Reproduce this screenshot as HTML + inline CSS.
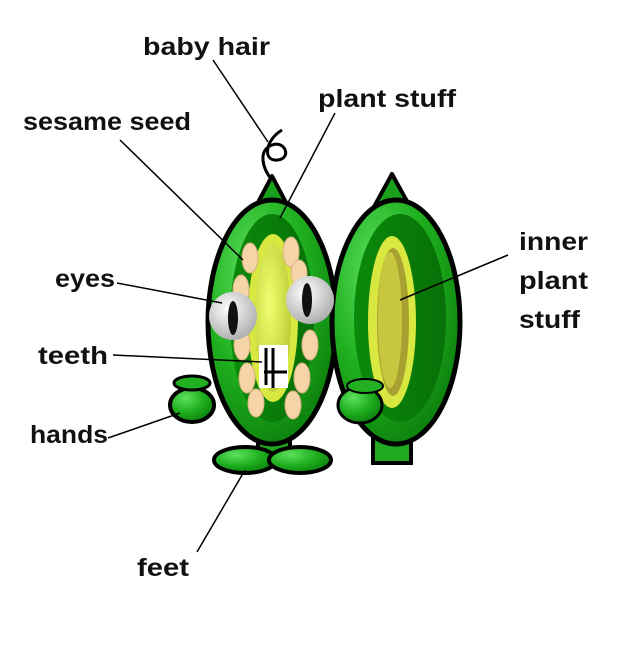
<!DOCTYPE html>
<html><head><style>
body{margin:0;background:#fff;}
svg{display:block}
text{font-family:"Liberation Sans",sans-serif;font-weight:bold;font-size:25px;fill:#111}
</style></head><body>
<svg width="626" height="651" viewBox="0 0 626 651" xmlns="http://www.w3.org/2000/svg">
<defs>
<radialGradient id="g" cx="0.35" cy="0.3" r="0.8"><stop offset="0" stop-color="#5fe05f"/><stop offset="0.5" stop-color="#1fb01f"/><stop offset="1" stop-color="#0a7a0a"/></radialGradient>
<linearGradient id="dg" x1="0" x2="1"><stop offset="0" stop-color="#0a8a0a"/><stop offset="1" stop-color="#087008"/></linearGradient>
<radialGradient id="y" cx="0.4" cy="0.4" r="0.7"><stop offset="0" stop-color="#f0ff70"/><stop offset="1" stop-color="#b8c830"/></radialGradient>
<radialGradient id="w" cx="0.4" cy="0.35" r="0.7"><stop offset="0" stop-color="#fff"/><stop offset="1" stop-color="#aaa"/></radialGradient>
</defs>
<!-- hair -->
<path d="M272 180 C262 168 258 150 272 145 C285 140 292 158 278 160 C262 162 265 140 282 130" fill="none" stroke="#000" stroke-width="3"/>
<!-- left pod -->
<path d="M272 176 L298 225 L246 225 Z" fill="#1aa01a" stroke="#000" stroke-width="4" stroke-linejoin="round"/>
<rect x="258" y="428" width="32" height="36" fill="#20a820" stroke="#000" stroke-width="4"/>
<ellipse cx="245" cy="460" rx="31" ry="13" fill="url(#g)" stroke="#000" stroke-width="4"/>
<ellipse cx="300" cy="460" rx="31" ry="13" fill="url(#g)" stroke="#000" stroke-width="4"/>
<ellipse cx="272" cy="322" rx="64" ry="122" fill="url(#g)" stroke="#000" stroke-width="5"/>
<ellipse cx="272" cy="318" rx="42" ry="104" fill="url(#dg)"/>
<ellipse cx="273" cy="318" rx="25" ry="84" fill="#d8e840"/>
<ellipse cx="273" cy="318" rx="18" ry="74" fill="url(#y)"/>
<!-- right pod -->
<path d="M392 174 L420 225 L364 225 Z" fill="#1aa01a" stroke="#000" stroke-width="4" stroke-linejoin="round"/>
<rect x="373" y="428" width="38" height="35" fill="#20a820" stroke="#000" stroke-width="4"/>
<ellipse cx="396" cy="322" rx="64" ry="122" fill="url(#g)" stroke="#000" stroke-width="5"/>
<ellipse cx="400" cy="318" rx="46" ry="104" fill="url(#dg)"/>
<ellipse cx="392" cy="322" rx="24" ry="86" fill="#d8e840"/>
<ellipse cx="393" cy="322" rx="16" ry="74" fill="#a8a030"/>
<ellipse cx="390" cy="320" rx="12" ry="68" fill="#c8c840"/>
<ellipse cx="360" cy="405" rx="22" ry="18" fill="url(#g)" stroke="#000" stroke-width="3"/>
<ellipse cx="365" cy="386" rx="18" ry="7" fill="#22b022" stroke="#000" stroke-width="2"/>
<!-- seeds -->
<g fill="#f5d5a8" stroke="#d8b080" stroke-width="1">
<ellipse cx="250" cy="258" rx="8" ry="15"/><ellipse cx="241" cy="290" rx="8" ry="15"/>
<ellipse cx="242" cy="345" rx="8" ry="15"/><ellipse cx="247" cy="378" rx="8" ry="15"/><ellipse cx="256" cy="403" rx="8" ry="14"/>
<ellipse cx="291" cy="252" rx="8" ry="15"/><ellipse cx="299" cy="273" rx="8" ry="13"/>
<ellipse cx="310" cy="345" rx="8" ry="15"/><ellipse cx="302" cy="378" rx="8" ry="15"/><ellipse cx="293" cy="405" rx="8" ry="14"/>
</g>
<!-- eyes -->
<circle cx="233" cy="316" r="24" fill="url(#w)"/>
<ellipse cx="233" cy="318" rx="5" ry="17" fill="#111"/>
<circle cx="310" cy="300" r="24" fill="url(#w)"/>
<ellipse cx="307" cy="300" rx="5" ry="17" fill="#111"/>
<!-- teeth -->
<rect x="259" y="345" width="29" height="43" fill="#fff"/>
<path d="M266 348V385M273 348V385M264 372H287M273 372V388" stroke="#000" stroke-width="3" fill="none"/>
<!-- left hand -->
<ellipse cx="192" cy="405" rx="22" ry="17" fill="url(#g)" stroke="#000" stroke-width="4"/>
<ellipse cx="192" cy="383" rx="18" ry="7" fill="#22b022" stroke="#000" stroke-width="3"/>
<!-- lines -->
<g stroke="#000" stroke-width="1.5">
<line x1="213" y1="60" x2="268" y2="142"/>
<line x1="335" y1="113" x2="280" y2="218"/>
<line x1="120" y1="140" x2="243" y2="260"/>
<line x1="117" y1="283" x2="222" y2="303"/>
<line x1="113" y1="355" x2="262" y2="362"/>
<line x1="108" y1="438" x2="180" y2="413"/>
<line x1="197" y1="552" x2="245" y2="470"/>
<line x1="508" y1="255" x2="400" y2="300"/>
</g>
<text x="143" y="55" textLength="127" lengthAdjust="spacingAndGlyphs">baby hair</text>
<text x="318" y="107" textLength="138" lengthAdjust="spacingAndGlyphs">plant stuff</text>
<text x="23" y="130" textLength="168" lengthAdjust="spacingAndGlyphs">sesame seed</text>
<text x="55" y="287" textLength="60" lengthAdjust="spacingAndGlyphs">eyes</text>
<text x="38" y="364" textLength="70" lengthAdjust="spacingAndGlyphs">teeth</text>
<text x="30" y="443" textLength="78" lengthAdjust="spacingAndGlyphs">hands</text>
<text x="137" y="576" textLength="52" lengthAdjust="spacingAndGlyphs">feet</text>
<text x="519" y="250" textLength="69" lengthAdjust="spacingAndGlyphs">inner</text>
<text x="519" y="289" textLength="69" lengthAdjust="spacingAndGlyphs">plant</text>
<text x="519" y="328" textLength="61" lengthAdjust="spacingAndGlyphs">stuff</text>
</svg>
</body></html>
